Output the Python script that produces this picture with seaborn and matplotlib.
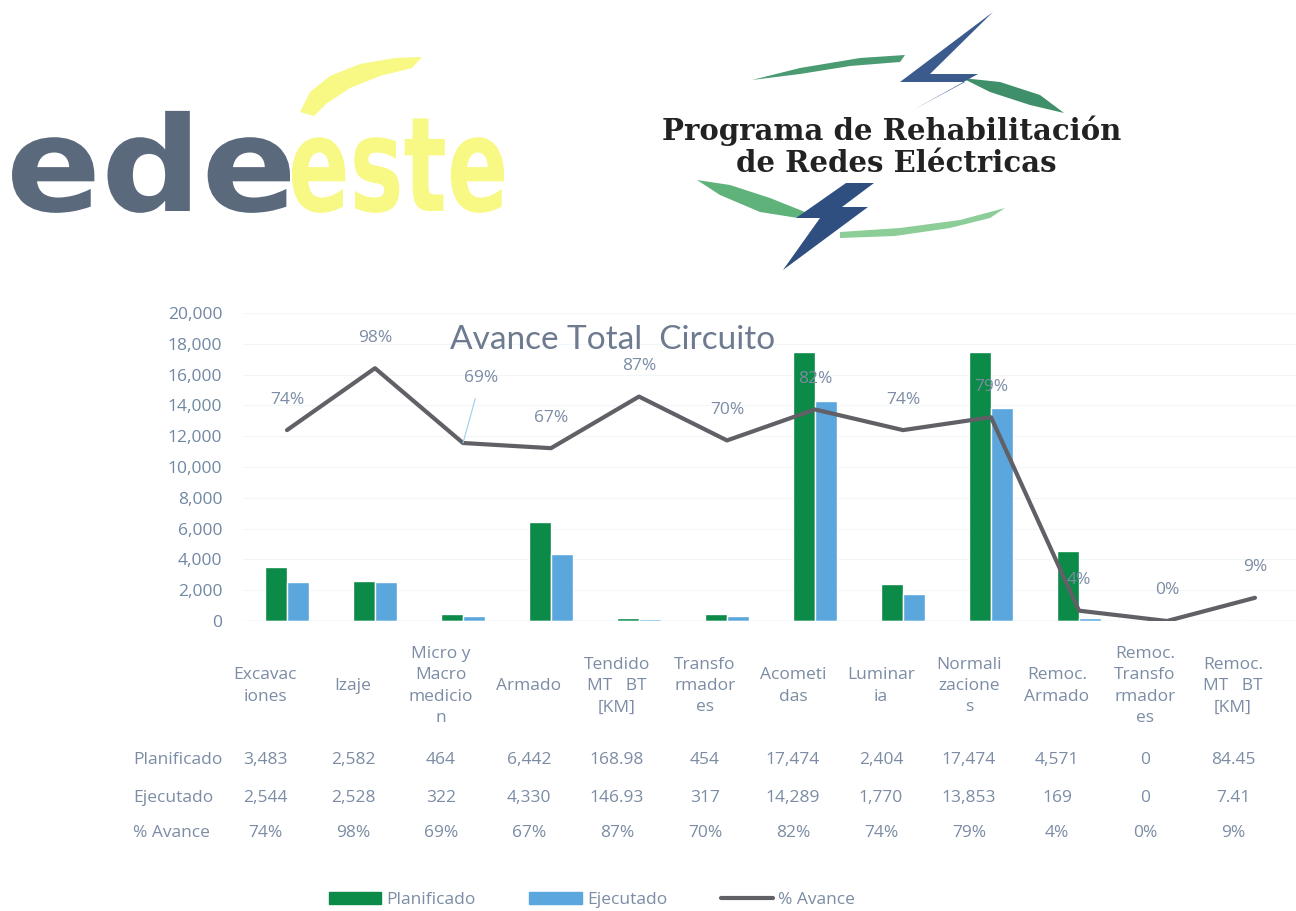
import numpy as np
import pandas as pd
import matplotlib
matplotlib.use('Agg')
import matplotlib.pyplot as plt
import seaborn as sns
from matplotlib.textpath import TextPath
from matplotlib.patches import PathPatch, Polygon, Patch
from matplotlib.lines import Line2D
from matplotlib.font_manager import FontProperties
from matplotlib.transforms import Affine2D, blended_transform_factory

# Data
categorias = ['Excavaciones', 'Izaje', 'Micro y Macro medicion', 'Armado',
              'Tendido MT BT [KM]', 'Transformadores', 'Acometidas', 'Luminaria',
              'Normalizaciones', 'Remoc. Armado', 'Remoc. Transformadores',
              'Remoc. MT BT [KM]']
etiquetas = ['Excavac\niones', 'Izaje', 'Micro y\nMacro\nmedicio\nn', 'Armado',
             'Tendido\nMT   BT\n[KM]', 'Transfo\nrmador\nes', 'Acometi\ndas',
             'Luminar\nia', 'Normali\nzacione\ns', 'Remoc.\nArmado',
             'Remoc.\nTransfo\nrmador\nes', 'Remoc.\nMT   BT\n[KM]']
planificado = [3483, 2582, 464, 6442, 168.98, 454, 17474, 2404, 17474, 4571, 0, 84.45]
ejecutado = [2544, 2528, 322, 4330, 146.93, 317, 14289, 1770, 13853, 169, 0, 7.41]
avance = [74, 98, 69, 67, 87, 70, 82, 74, 79, 4, 0, 9]
yticks = list(range(0, 20001, 2000))

GREEN = '#0b8a48'
BLUE = '#5ba6dd'
LINE = '#606066'
TXT = '#7b8ca4'
FS = 12.5

sns.set_style('white')
plt.rcParams['font.family'] = ['Open Sans', 'DejaVu Sans']

W, H = 1296, 911
fig = plt.figure(figsize=(W / 100, H / 100), dpi=100)


def fx(x):
    return x / W


def fy(y):
    return 1 - y / H


# ---- main chart
ax = fig.add_axes([fx(243), fy(621), 1056 / W, 308 / H])
df = pd.DataFrame({
    'Categoria': categorias * 2,
    'Valor': planificado + ejecutado,
    'Serie': ['Planificado'] * len(categorias) + ['Ejecutado'] * len(categorias),
})
sns.barplot(data=df, x='Categoria', y='Valor', hue='Serie', order=categorias,
            palette=[GREEN, BLUE], width=0.5, saturation=1, legend=False, ax=ax)
ax.set_ylim(0, 20000)
ax.set_yticks(yticks)
ax.set_yticklabels([f'{v:,}' for v in yticks], fontsize=FS, color='#7088a3')
ax.tick_params(axis='y', length=0, pad=15)
ax.tick_params(axis='x', length=0, labelbottom=False)
ax.set_xlabel('')
ax.set_ylabel('')
ax.yaxis.grid(True, color='#f1f6f9', lw=0.8)
ax.set_axisbelow(True)
sns.despine(ax=ax, left=True, bottom=True)
ax.axhline(0, color='#d8edf5', lw=1)

ax2 = ax.twinx()
x = np.arange(len(categorias))
sns.lineplot(x=x, y=avance, ax=ax2, color=LINE, lw=3)
ax2.set_ylim(0, 119.4)
ax2.axis('off')
ax.set_xlim(-0.5, len(categorias) - 0.5)

for i, p in enumerate(avance):
    if i == 2:
        ax2.annotate(f'{p}%', (i, p), xytext=(13, 47), textcoords='offset points',
                     ha='center', va='center', fontsize=FS, color=TXT,
                     arrowprops=dict(arrowstyle='-', color='#9fcbe9', lw=0.8,
                                     shrinkA=7, shrinkB=0))
    else:
        ax2.annotate(f'{p}%', (i, p), xytext=(0, 22), textcoords='offset points',
                     ha='center', va='center', fontsize=FS, color=TXT)

fig.text(fx(613), fy(340), 'Avance Total  Circuito', ha='center', va='center',
         fontsize=24, color='#6d7a8f', family='Lato')

# ---- data table under the chart
tr = blended_transform_factory(ax.transData, fig.transFigure)


def fmt(v):
    return f'{v:,.0f}' if float(v).is_integer() else f'{v:,.2f}'


for i in range(len(categorias)):
    xc = i - 0.25
    ax.text(xc, fy(686), etiquetas[i], transform=tr, ha='center', va='center',
            fontsize=FS, color=TXT, linespacing=1.45)
    ax.text(xc, fy(760), fmt(planificado[i]), transform=tr, ha='center', va='center',
            fontsize=FS, color=TXT)
    ax.text(xc, fy(798), fmt(ejecutado[i]), transform=tr, ha='center', va='center',
            fontsize=FS, color=TXT)
    ax.text(xc, fy(833), f'{avance[i]}%', transform=tr, ha='center', va='center',
            fontsize=FS, color=TXT)

for label, yy in [('Planificado', 760), ('Ejecutado', 798), ('% Avance', 833)]:
    fig.text(fx(133), fy(yy), label, ha='left', va='center', fontsize=FS, color=TXT)

handles = [Patch(color=GREEN), Patch(color=BLUE), Line2D([], [], color=LINE, lw=3)]
fig.legend(handles, ['Planificado', 'Ejecutado', '% Avance'], loc='center',
           bbox_to_anchor=(fx(592), fy(900)), ncol=3, frameon=False, fontsize=FS,
           labelcolor=TXT, handlelength=3.0, handleheight=0.7, handletextpad=0.3,
           columnspacing=3.1)

# ---- logos
def word(text, x0, width, base, sy, color):
    tp = TextPath((0, 0), text, size=1,
                  prop=FontProperties(family='DejaVu Sans', weight='bold'))
    ext = tp.get_extents()
    sx = width / ext.width
    t = (Affine2D().scale(sx, sy).translate(x0 - ext.x0 * sx, H - base)
         .scale(1 / W, 1 / H) + fig.transFigure)
    fig.patches.append(PathPatch(tp, transform=t, color=color, lw=0))


ede_ext = TextPath((0, 0), 'ede', size=1,
                   prop=FontProperties(family='DejaVu Sans', weight='bold')).get_extents()
sy = 102 / ede_ext.height
word('ede', 12, 278, 211, sy, '#5b697d')
word('este', 292, 212, 211, sy, '#f8f884')


def poly(pts, color):
    fig.patches.append(Polygon([(fx(a), fy(b)) for a, b in pts], closed=True,
                               transform=fig.transFigure, color=color, lw=0))


# yellow swoosh over "este"
poly([(300, 112), (310, 92), (330, 76), (360, 64), (395, 58), (422, 57), (412, 68),
      (380, 76), (350, 88), (326, 104), (314, 116)], '#f8f884')
# swooshes and bolts of the program logo
poly([(752, 80), (800, 68), (860, 58), (905, 55), (900, 62), (850, 66), (800, 74)], '#4a9a72')
poly([(962, 78), (1000, 82), (1040, 95), (1064, 113), (1030, 105), (990, 92)], '#3f8f6a')
poly([(697, 180), (730, 185), (770, 198), (805, 212), (798, 218), (760, 212), (720, 195)], '#5fb37a')
poly([(840, 232), (900, 228), (960, 220), (1005, 208), (990, 218), (950, 228), (895, 236), (840, 238)], '#8ccd98')
poly([(993, 12), (900, 82), (965, 82), (913, 110), (978, 74), (930, 74)], '#3b5b8c')
poly([(846, 183), (874, 183), (842, 207), (868, 207), (783, 270), (820, 218), (796, 218)], '#2f4f80')

fig.text(fx(892), fy(131), 'Programa de Rehabilitación', ha='center', va='center',
         fontsize=21, fontweight='bold', family='DejaVu Serif', color='#222222')
fig.text(fx(896), fy(163), 'de Redes Eléctricas', ha='center', va='center',
         fontsize=21, fontweight='bold', family='DejaVu Serif', color='#222222')

fig.savefig('out.png', dpi=100)
